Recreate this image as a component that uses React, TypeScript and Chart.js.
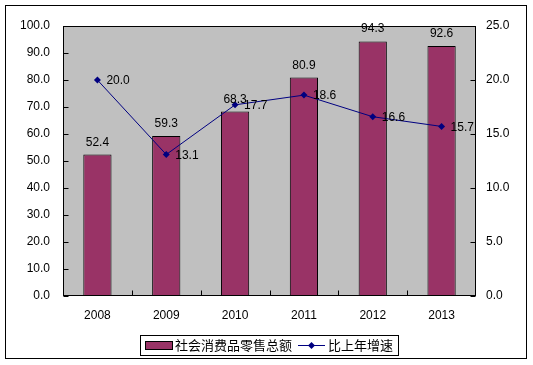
import React, { useEffect, useRef } from "react";
import { Chart, registerables } from "chart.js";

Chart.register(...registerables);

const categories = ["2008", "2009", "2010", "2011", "2012", "2013"];
const salesValues = [52.4, 59.3, 68.3, 80.9, 94.3, 92.6];
const growthValues = [20.0, 13.1, 17.7, 18.6, 16.6, 15.7];
const barLabel = "社会消费品零售总额";
const lineLabel = "比上年增速";

const FONT = '"Liberation Sans", Arial, sans-serif';
const CJK_FONT = '"Liberation Sans", "Noto Sans CJK SC", sans-serif';
const BAR_COLOR = "#993366";
const LINE_COLOR = "#000080";
const PLOT_BG = "#C0C0C0";

const decorPlugin = {
  id: "decor",
  beforeDraw(chart: any) {
    const { ctx, chartArea: a } = chart;
    ctx.save();
    ctx.fillStyle = "#ffffff";
    ctx.fillRect(0, 0, chart.width, chart.height);
    ctx.strokeStyle = "#000";
    ctx.lineWidth = 1;
    ctx.strokeRect(5.5, 5.5, 521, 353);
    ctx.fillStyle = PLOT_BG;
    ctx.fillRect(a.left, a.top, a.right - a.left, a.bottom - a.top);
    ctx.restore();
  },
  afterDatasetsDraw(chart: any) {
    const { ctx, chartArea: a, scales } = chart;
    ctx.save();
    // plot border
    ctx.strokeStyle = "#000";
    ctx.lineWidth = 1;
    const L = Math.round(a.left) + 0.5;
    const R = Math.round(a.right) - 0.5;
    const T = Math.round(a.top) + 0.5;
    const B = Math.round(a.bottom) - 0.5;
    ctx.strokeRect(L, T, R - L, B - T);
    // inward ticks
    ctx.beginPath();
    const yl = scales.y;
    yl.ticks.forEach((t: any) => {
      const py = Math.round(yl.getPixelForValue(t.value)) + 0.5;
      ctx.moveTo(L, py);
      ctx.lineTo(L + 5, py);
    });
    const yr = scales.y1;
    yr.ticks.forEach((t: any) => {
      const py = Math.round(yr.getPixelForValue(t.value)) + 0.5;
      ctx.moveTo(R, py);
      ctx.lineTo(R - 5, py);
    });
    const step = (a.right - a.left) / categories.length;
    for (let i = 1; i < categories.length; i++) {
      const px = Math.round(a.left + step * i) + 0.5;
      ctx.moveTo(px, B);
      ctx.lineTo(px, B - 5);
    }
    ctx.stroke();

    // data labels
    ctx.font = "12px " + FONT;
    ctx.fillStyle = "#000";
    const barMeta = chart.getDatasetMeta(0);
    barMeta.data.forEach((el: any, i: number) => {
      ctx.textAlign = "center";
      ctx.textBaseline = "alphabetic";
      ctx.fillText(salesValues[i].toFixed(1), el.x, el.y - 9);
    });
    const lineMeta = chart.getDatasetMeta(1);
    lineMeta.data.forEach((el: any, i: number) => {
      ctx.textAlign = "left";
      ctx.textBaseline = "middle";
      ctx.fillText(growthValues[i].toFixed(1), el.x + 9, el.y + 1);
    });

    // legend
    ctx.strokeStyle = "#000";
    ctx.strokeRect(140.5, 335.5, 258, 20);
    ctx.fillStyle = BAR_COLOR;
    ctx.fillRect(145, 341, 27, 8);
    ctx.strokeRect(145.5, 341.5, 27, 8);
    ctx.fillStyle = "#000";
    ctx.font = "13px " + CJK_FONT;
    ctx.textAlign = "left";
    ctx.textBaseline = "middle";
    ctx.fillText(barLabel, 175, 346);
    ctx.strokeStyle = LINE_COLOR;
    ctx.beginPath();
    ctx.moveTo(298, 345.5);
    ctx.lineTo(325, 345.5);
    ctx.stroke();
    ctx.fillStyle = LINE_COLOR;
    ctx.beginPath();
    ctx.moveTo(311.5, 342);
    ctx.lineTo(315, 345.5);
    ctx.lineTo(311.5, 349);
    ctx.lineTo(308, 345.5);
    ctx.closePath();
    ctx.fill();
    ctx.fillStyle = "#000";
    ctx.fillText(lineLabel, 328, 346);
    ctx.restore();
  },
};

export default function App() {
  const ref = useRef<HTMLCanvasElement | null>(null);
  useEffect(() => {
    if (!ref.current) return;
    const chart = new Chart(ref.current, {
      type: "bar",
      data: {
        labels: categories,
        datasets: [
          {
            type: "bar",
            label: barLabel,
            data: salesValues,
            backgroundColor: BAR_COLOR,
            borderColor: "#000",
            borderWidth: 1,
            barPercentage: 0.41,
            categoryPercentage: 1,
            yAxisID: "y",
            order: 2,
          },
          {
            type: "line",
            label: lineLabel,
            data: growthValues,
            borderColor: LINE_COLOR,
            backgroundColor: LINE_COLOR,
            borderWidth: 1,
            pointStyle: "rectRot",
            pointRadius: 3.5,
            pointBorderWidth: 0,
            yAxisID: "y1",
            order: 1,
          } as any,
        ],
      },
      options: {
        responsive: false,
        animation: false,
        layout: { padding: { left: 0, right: 0, top: 26, bottom: 39 } },
        plugins: {
          legend: { display: false },
          tooltip: { enabled: false },
        },
        scales: {
          x: {
            offset: true,
            grid: { display: false, drawTicks: false },
            border: { display: false },
            ticks: { color: "#000", font: { family: FONT, size: 12 }, padding: 12, maxRotation: 0 },
            afterFit: (s: any) => { s.height = 30; },
          },
          y: {
            position: "left",
            min: 0,
            max: 100,
            grid: { display: false, drawTicks: false },
            border: { display: false },
            ticks: {
              stepSize: 10,
              color: "#000",
              font: { family: FONT, size: 12 },
              padding: 13,
              callback: (v: any) => Number(v).toFixed(1),
            },
            afterFit: (s: any) => { s.width = 63; },
          },
          y1: {
            position: "right",
            min: 0,
            max: 25,
            grid: { display: false, drawTicks: false },
            border: { display: false },
            ticks: {
              stepSize: 5,
              color: "#000",
              font: { family: FONT, size: 12 },
              padding: 10,
              callback: (v: any) => Number(v).toFixed(1),
            },
            afterFit: (s: any) => { s.width = 57; },
          },
        },
      } as any,
      plugins: [decorPlugin],
    });
    return () => chart.destroy();
  }, []);
  return (
    <div style={{ position: "absolute", left: 0, top: 0, width: 533, height: 365 }}>
      <canvas ref={ref} width={533} height={365} style={{ width: 533, height: 365 }} />
    </div>
  );
}
